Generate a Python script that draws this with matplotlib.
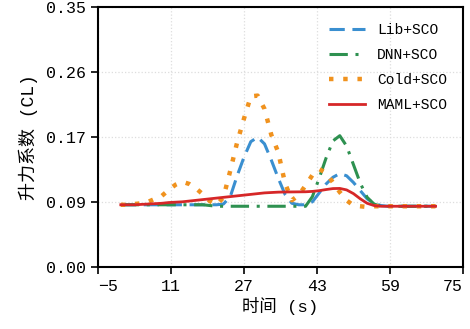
import matplotlib
matplotlib.use("Agg")
import matplotlib.pyplot as plt

# time axis (s) and lift coefficient readings per method
t = [0, 1.5, 3, 4.5, 6, 7.5, 9, 10.5, 12, 13.5, 15, 16.5, 18, 19.5, 21, 22.5, 24, 25.5,
     27, 28.5, 30, 31.5, 33, 34.5, 36, 37.5, 39, 40.5, 42, 43.5, 45, 46.5, 48, 49.5,
     51, 52.5, 54, 55.5, 57, 58.5, 60, 61.5, 63, 64.5, 66, 67.5, 69]

lib_sco = [.084, .084, .084, .084, .084, .084, .084, .084, .084, .084, .084, .084, .084, .084,
           .084, .085, .095, .123, .148, .169, .175, .166, .144, .120, .098, .086, .084, .084,
           .088, .100, .112, .121, .126, .123, .114, .103, .092, .086, .083, .082, .082, .082,
           .082, .082, .082, .082, .082]

dnn_sco = [.084, .084, .084, .084, .084, .084, .084, .084, .084, .084, .084, .084, .084, .083,
           .082, .082, .082, .082, .082, .082, .082, .082, .082, .082, .082, .082, .082, .082,
           .095, .120, .147, .170, .177, .163, .138, .113, .094, .085, .082, .082, .082, .082,
           .082, .082, .082, .082, .082]

cold_sco = [.084, .084, .085, .086, .088, .092, .096, .104, .111, .115, .112, .106, .098, .089,
            .084, .094, .130, .168, .200, .230, .231, .213, .178, .155, .113, .090, .097, .110,
            .124, .132, .127, .114, .101, .090, .083, .082, .081, .082, .082, .082, .082, .082,
            .082, .082, .082, .082, .082]

maml_sco = [.084, .084, .084, .0845, .085, .0855, .086, .087, .0875, .088, .089, .090, .091, .092,
            .093, .094, .095, .096, .097, .098, .099, .100, .1005, .101, .1012, .1013, .1014,
            .1015, .102, .103, .1045, .1058, .106, .104, .099, .092, .086, .083, .082, .082,
            .082, .082, .082, .082, .082, .082, .082]

xticks = [-5, 11, 27, 43, 59, 75]
yticks = [0.0, 0.0875, 0.175, 0.2625, 0.35]

MONO = ["Liberation Mono", "Noto Sans CJK SC"]
plt.rcParams["font.family"] = MONO

fig = plt.figure(figsize=(4.7, 3.29), dpi=100)
ax = fig.add_axes([0.2085, 0.188, 0.7765, 0.79])

ax.plot(t, lib_sco, color="#3a8fd0", ls=(0, (5, 2.5)), lw=2.2, label="Lib+SCO")
ax.plot(t, dnn_sco, color="#2e9150", ls=(0, (6, 2.5, 1, 2.5)), lw=2.2, label="DNN+SCO")
ax.plot(t, cold_sco, color="#f0921e", ls=(0, (1, 2.2)), lw=3.2, label="Cold+SCO")
ax.plot(t, maml_sco, color="#d62728", ls="-", lw=2.0, label="MAML+SCO")

ax.set_xlim(-5, 75); ax.set_ylim(0, 0.35)
ax.set_xticks(xticks); ax.set_xticklabels([str(v).replace("-", "\u2212") for v in xticks])
ax.set_yticks(yticks); ax.set_yticklabels([f"{v:.2f}" for v in yticks])
ax.tick_params(labelsize=12, direction="out", length=5, width=1.2, colors="black")
xl = ax.get_xticklabels()
xl[0].set_ha("left"); xl[-1].set_ha("right")
for s in ax.spines.values():
    s.set_linewidth(1.5); s.set_color("black")
ax.grid(True, ls=":", color="#dddddd", lw=0.9)

ax.set_xlabel("时间 (s)", fontsize=12.5, labelpad=2)
ax.set_ylabel("升力系数 (CL)", fontsize=13, labelpad=6)

ax.legend(loc="upper right", frameon=False, fontsize=10.5, handlelength=2.5,
          labelspacing=0.75, borderaxespad=0.7)

fig.savefig("out.png", dpi=100)
